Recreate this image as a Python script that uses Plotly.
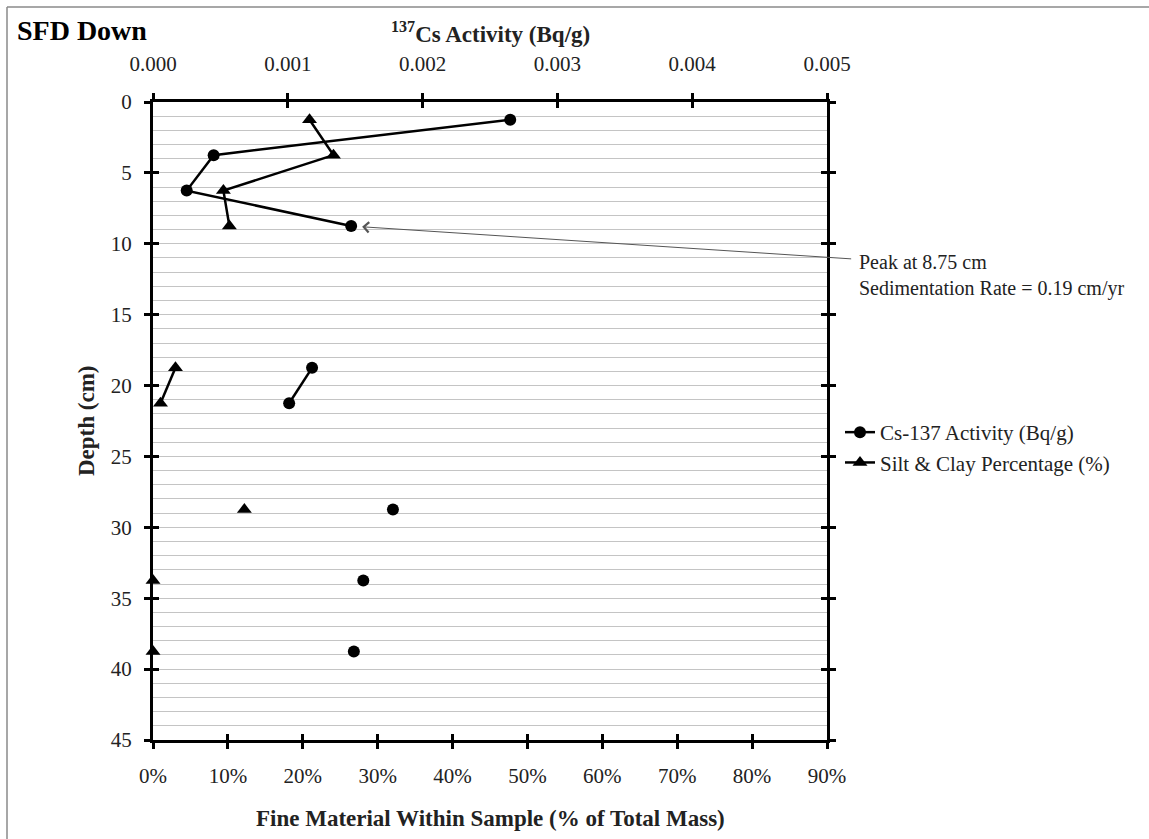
import plotly.graph_objects as go

# ---- data ----
depth_cm = [1.25, 3.75, 6.25, 8.75, 18.75, 21.25, 28.75, 33.75, 38.75]
segment = [1, 1, 1, 1, 2, 2, 3, 4, 5]
cs137_bq_g = [0.00265, 0.00045, 0.00025, 0.00147, 0.00118, 0.00101, 0.00178, 0.00156, 0.00149]
silt_clay_pct = [20.9, 24.1, 9.4, 10.2, 3.0, 1.0, 12.2, 0.0, 0.0]

cs_ticks = [0.000, 0.001, 0.002, 0.003, 0.004, 0.005]
pct_ticks = [0, 10, 20, 30, 40, 50, 60, 70, 80, 90]
pct_labels = ["0%", "10%", "20%", "30%", "40%", "50%", "60%", "70%", "80%", "90%"]
depth_ticks = [0, 5, 10, 15, 20, 25, 30, 35, 40, 45]


def with_gaps(xs, ys, seg):
    ox, oy = [], []
    prev = None
    for x, y, s in zip(xs, ys, seg):
        if prev is not None and s != prev:
            ox.append(None)
            oy.append(None)
        ox.append(x)
        oy.append(y)
        prev = s
    return ox, oy


FONT = "Liberation Serif"
W, H = 1149, 839
L, R, T, B = 153, 322, 102, 99
PW, PH = W - L - R, H - T - B


def px(xp):
    return (xp - L) / PW


def py(yp):
    return (H - B - yp) / PH


cs_x, cs_y = with_gaps(cs137_bq_g, depth_cm, segment)
si_x, si_y = with_gaps(silt_clay_pct, depth_cm, segment)

fig = go.Figure()
fig.add_trace(go.Scatter(
    x=cs_x, y=cs_y, xaxis="x2", yaxis="y", mode="lines+markers",
    name="Cs-137 Activity (Bq/g)",
    line=dict(color="black", width=2.5),
    marker=dict(symbol="circle", size=12, color="black"),
    cliponaxis=False,
))
fig.add_trace(go.Scatter(
    x=si_x, y=si_y, xaxis="x", yaxis="y", mode="lines+markers",
    name="Silt & Clay Percentage (%)",
    line=dict(color="black", width=2.5),
    marker=dict(symbol="triangle-up", size=13, color="black"),
    cliponaxis=False,
))
# dummy traces to make the overlay (tick-crossing) axes exist
for xa, ya in [("x3", "y"), ("x4", "y"), ("x", "y2"), ("x", "y3"), ("x", "y4")]:
    fig.add_trace(go.Scatter(x=[None], y=[None], xaxis=xa, yaxis=ya,
                             showlegend=False, hoverinfo="skip"))

tickfont = dict(family=FONT, size=21, color="#222")
common_tick = dict(tickwidth=2.5, tickcolor="black", ticklen=6)

fig.update_layout(
    width=W, height=H,
    margin=dict(l=L, r=R, t=T, b=B),
    paper_bgcolor="white", plot_bgcolor="white",
    font=dict(family=FONT, color="#222"),
    xaxis=dict(
        range=[0, 90], tickmode="array", tickvals=pct_ticks, ticktext=pct_labels,
        ticks="outside", **common_tick, ticklabelstandoff=9,
        showline=True, linewidth=3, linecolor="black",
        showgrid=False, zeroline=False, tickfont=tickfont,
        anchor="y", side="bottom",
    ),
    xaxis2=dict(
        range=[0, 0.005], tickvals=cs_ticks, tickformat=".3f",
        ticks="outside", **common_tick, ticklabelstandoff=14,
        showline=True, linewidth=3, linecolor="black",
        showgrid=False, zeroline=False, tickfont=tickfont,
        overlaying="x", side="top", anchor="y",
    ),
    xaxis3=dict(
        range=[0, 90], tickvals=pct_ticks, ticks="inside", **common_tick,
        showticklabels=False, showline=False, showgrid=False, zeroline=False,
        overlaying="x", side="bottom", anchor="y",
    ),
    xaxis4=dict(
        range=[0, 0.005], tickvals=cs_ticks, ticks="inside", **common_tick,
        showticklabels=False, showline=False, showgrid=False, zeroline=False,
        overlaying="x", side="top", anchor="y",
    ),
    yaxis=dict(
        range=[45, 0], tickvals=depth_ticks,
        ticks="outside", **common_tick, ticklabelstandoff=8,
        showline=True, linewidth=3, linecolor="black",
        showgrid=True, gridcolor="#c4c4c4", gridwidth=1,
        minor=dict(dtick=1, showgrid=True, gridcolor="#c4c4c4", gridwidth=1),
        zeroline=False, tickfont=tickfont, side="left", anchor="x",
    ),
    yaxis2=dict(
        range=[45, 0], tickvals=depth_ticks, ticks="outside", **common_tick,
        showticklabels=False, showline=True, linewidth=3, linecolor="black",
        showgrid=False, zeroline=False, overlaying="y", side="right", anchor="x",
    ),
    yaxis3=dict(
        range=[45, 0], tickvals=depth_ticks, ticks="inside", **common_tick,
        showticklabels=False, showline=False, showgrid=False, zeroline=False,
        overlaying="y", side="left", anchor="x",
    ),
    yaxis4=dict(
        range=[45, 0], tickvals=depth_ticks, ticks="inside", **common_tick,
        showticklabels=False, showline=False, showgrid=False, zeroline=False,
        overlaying="y", side="right", anchor="x",
    ),
    legend=dict(
        x=px(840), y=py(412), xanchor="left", yanchor="top",
        font=dict(family=FONT, size=21, color="#222"),
        bgcolor="rgba(0,0,0,0)", tracegroupgap=0,
    ),
    showlegend=True,
)

annotations = [
    dict(text="<b>SFD Down</b>", xref="paper", yref="paper",
         x=px(15), y=py(30), xanchor="left", yanchor="middle", showarrow=False,
         font=dict(family=FONT, size=28, color="black")),
    dict(text="<b><sup>137</sup>Cs Activity (Bq/g)</b>", xref="paper", yref="paper",
         x=0.5, y=py(33), xanchor="center", yanchor="middle", showarrow=False,
         font=dict(family=FONT, size=23, color="#222")),
    dict(text="<b>Fine Material Within Sample (% of Total Mass)</b>", xref="paper", yref="paper",
         x=0.5, y=py(818), xanchor="center", yanchor="middle", showarrow=False,
         font=dict(family=FONT, size=23, color="#222")),
    dict(text="<b>Depth (cm)</b>", xref="paper", yref="paper",
         x=px(86), y=0.5, xanchor="center", yanchor="middle", showarrow=False,
         textangle=-90, font=dict(family=FONT, size=23, color="#222")),
    dict(text="Peak at 8.75 cm<br>Sedimentation Rate = 0.19 cm/yr", xref="paper", yref="paper",
         x=px(857), y=py(275), xanchor="left", yanchor="middle", align="left", showarrow=False,
         font=dict(family=FONT, size=20, color="#222")),
    dict(text=" ", xref="x2", yref="y", x=cs137_bq_g[3], y=depth_cm[3],
         showarrow=True, ax=853 - 350, ay=259 - 226, arrowhead=4, arrowsize=2,
         arrowwidth=1, arrowcolor="#555", standoff=11),
]
fig.update_layout(annotations=annotations)

fig.update_layout(shapes=[
    dict(type="line", xref="paper", yref="paper", x0=px(7), x1=px(7), y0=py(7), y1=py(H),
         line=dict(color="#8a8a8a", width=1.5)),
    dict(type="line", xref="paper", yref="paper", x0=px(7), x1=px(W), y0=py(7), y1=py(7),
         line=dict(color="#8a8a8a", width=1.5)),
])

fig.write_html("out.html", config={"displayModeBar": False},
               post_script="document.body.style.margin='0';")
